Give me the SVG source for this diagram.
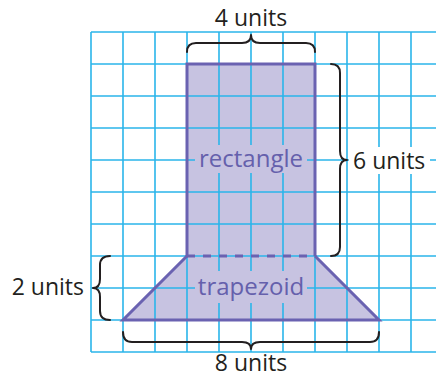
<svg xmlns="http://www.w3.org/2000/svg" width="436" height="377" viewBox="0 0 436 377">
<style>
.grid line{stroke:#2ab5ea;stroke-width:1.6}
.brace{fill:none;stroke:#231f20;stroke-width:2;stroke-linejoin:round;stroke-linecap:round}
.shape{fill:none;stroke:#6a62b1;stroke-width:3;stroke-linejoin:miter}
.fill{fill:#c7c3e1;stroke:none}
.lbl{font-family:"Open Sans","Noto Sans","DejaVu Sans",sans-serif;font-size:23px;fill:#231f20}
.plbl{font-family:"Open Sans","Noto Sans","DejaVu Sans",sans-serif;font-size:24px;fill:#6560ac;text-anchor:middle}
</style>
<rect width="436" height="377" fill="#ffffff"/>
<path class="fill" d="M187,64 H315 V256 L379,320 H123 L187,256 Z"/>
<g class="grid">
<line x1="91" y1="32" x2="436" y2="32"/>
<line x1="91" y1="64" x2="436" y2="64"/>
<line x1="91" y1="96" x2="436" y2="96"/>
<line x1="91" y1="128" x2="436" y2="128"/>
<line x1="91" y1="160" x2="436" y2="160"/>
<line x1="91" y1="192" x2="436" y2="192"/>
<line x1="91" y1="224" x2="436" y2="224"/>
<line x1="91" y1="256" x2="436" y2="256"/>
<line x1="91" y1="288" x2="436" y2="288"/>
<line x1="91" y1="320" x2="436" y2="320"/>
<line x1="91" y1="352" x2="436" y2="352"/>
<line x1="91" y1="32" x2="91" y2="352"/>
<line x1="123" y1="32" x2="123" y2="352"/>
<line x1="155" y1="32" x2="155" y2="352"/>
<line x1="187" y1="32" x2="187" y2="352"/>
<line x1="219" y1="32" x2="219" y2="352"/>
<line x1="251" y1="32" x2="251" y2="352"/>
<line x1="283" y1="32" x2="283" y2="352"/>
<line x1="315" y1="32" x2="315" y2="352"/>
<line x1="347" y1="32" x2="347" y2="352"/>
<line x1="379" y1="32" x2="379" y2="352"/>
<line x1="411" y1="32" x2="411" y2="352"/>
</g>
<rect class="fill" x="195" y="145" width="112" height="28"/>
<rect class="fill" x="195" y="271" width="112" height="32"/>
<rect fill="#ffffff" x="349" y="147" width="81" height="27"/>
<g id="rectangle">
<path class="shape" d="M187,256 V64 H315 V256"/>
<text class="plbl" x="251" y="166.5">rectangle</text>
</g>
<g id="trapezoid">
<path class="shape" d="M315,256 L379,320 H123 L187,256"/>
<line x1="187" y1="256" x2="315" y2="256" stroke="#6a62b1" stroke-width="3" stroke-dasharray="8 8"/>
<text class="plbl" x="251" y="294.5">trapezoid</text>
</g>
<g id="connectors">
<path class="brace" d="M187,52 Q187,43 196,43 H242 Q251,43 251,35 Q251,43 260,43 H306 Q315,43 315,52"/>
<path class="brace" d="M331,64 Q340,64 340,73 V151 Q340,160 347,160 Q340,160 340,169 V247 Q340,256 331,256"/>
<path class="brace" d="M110,256 Q100,256 100,265 V279 Q100,288 93,288 Q100,288 100,297 V311 Q100,320 110,320"/>
<path class="brace" d="M123,332 Q123,342 132,342 H242 Q251,342 251,349 Q251,342 260,342 H370 Q379,342 379,332"/>
</g>
<g id="labels">
<text class="lbl" x="251" y="26" text-anchor="middle">4 units</text>
<text class="lbl" x="353" y="169">6 units</text>
<text class="lbl" x="84" y="295" text-anchor="end">2 units</text>
<text class="lbl" x="251" y="371" text-anchor="middle">8 units</text>
</g>
</svg>
